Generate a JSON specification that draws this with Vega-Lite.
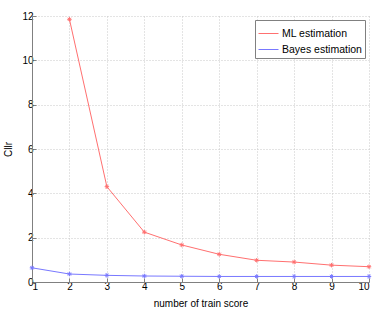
{
  "$schema": "https://vega.github.io/schema/vega-lite/v6.json",
  "width": 337,
  "height": 266,
  "autosize": {"type": "none"},
  "padding": {"left": 32, "top": 16, "right": 17, "bottom": 28},
  "background": "white",
  "config": {
    "font": "Liberation Sans",
    "view": {"stroke": null},
    "axis": {
      "domainColor": "#808080",
      "tickColor": "#808080",
      "tickSize": -4,
      "labelColor": "#000000",
      "labelFontSize": 10,
      "titleFontSize": 10,
      "titleFontWeight": "normal",
      "titleColor": "#000000",
      "gridColor": "#c8c8c8",
      "gridDash": [1, 2],
      "gridOpacity": 1,
      "labelPadding": 3
    }
  },
  "data": {
    "values": [
      {"n": 2, "cllr": 11.85, "series": "ML estimation"},
      {"n": 3, "cllr": 4.3, "series": "ML estimation"},
      {"n": 4, "cllr": 2.25, "series": "ML estimation"},
      {"n": 5, "cllr": 1.67, "series": "ML estimation"},
      {"n": 6, "cllr": 1.25, "series": "ML estimation"},
      {"n": 7, "cllr": 0.98, "series": "ML estimation"},
      {"n": 8, "cllr": 0.9, "series": "ML estimation"},
      {"n": 9, "cllr": 0.76, "series": "ML estimation"},
      {"n": 10, "cllr": 0.69, "series": "ML estimation"},
      {"n": 1, "cllr": 0.64, "series": "Bayes estimation"},
      {"n": 2, "cllr": 0.36, "series": "Bayes estimation"},
      {"n": 3, "cllr": 0.3, "series": "Bayes estimation"},
      {"n": 4, "cllr": 0.27, "series": "Bayes estimation"},
      {"n": 5, "cllr": 0.26, "series": "Bayes estimation"},
      {"n": 6, "cllr": 0.25, "series": "Bayes estimation"},
      {"n": 7, "cllr": 0.25, "series": "Bayes estimation"},
      {"n": 8, "cllr": 0.25, "series": "Bayes estimation"},
      {"n": 9, "cllr": 0.25, "series": "Bayes estimation"},
      {"n": 10, "cllr": 0.25, "series": "Bayes estimation"}
    ]
  },
  "encoding": {
    "x": {
      "field": "n", "type": "quantitative",
      "scale": {"domain": [1, 10], "nice": false},
      "axis": {"values": [1,2,3,4,5,6,7,8,9,10], "title": "number of train score", "titlePadding": 7}
    },
    "y": {
      "field": "cllr", "type": "quantitative",
      "scale": {"domain": [0, 12], "nice": false},
      "axis": {"values": [0,2,4,6,8,10,12], "title": "Cllr", "titlePadding": 8}
    },
    "color": {
      "field": "series", "type": "nominal",
      "scale": {"domain": ["ML estimation", "Bayes estimation"], "range": ["#ff7070", "#7878ff"]},
      "legend": {
        "title": null,
        "orient": "top-right",
        "offset": 4,
        "symbolType": "stroke",
        "symbolSize": 400,
        "symbolStrokeWidth": 1,
        "labelFontSize": 10.5,
        "labelColor": "#000000",
        "strokeColor": "#808080",
        "fillColor": "white",
        "padding": 3,
        "rowPadding": -6,
        "labelOffset": 3,
        "labelLimit": 200
      }
    }
  },
  "layer": [
    {"mark": {"type": "line", "strokeWidth": 1}},
    {"mark": {"type": "point", "filled": false, "strokeWidth": 1, "size": 20, "opacity": 1,
      "shape": "M-1,0L1,0M0,-1L0,1M-0.7,-0.7L0.7,0.7M-0.7,0.7L0.7,-0.7"}}
  ]
}
